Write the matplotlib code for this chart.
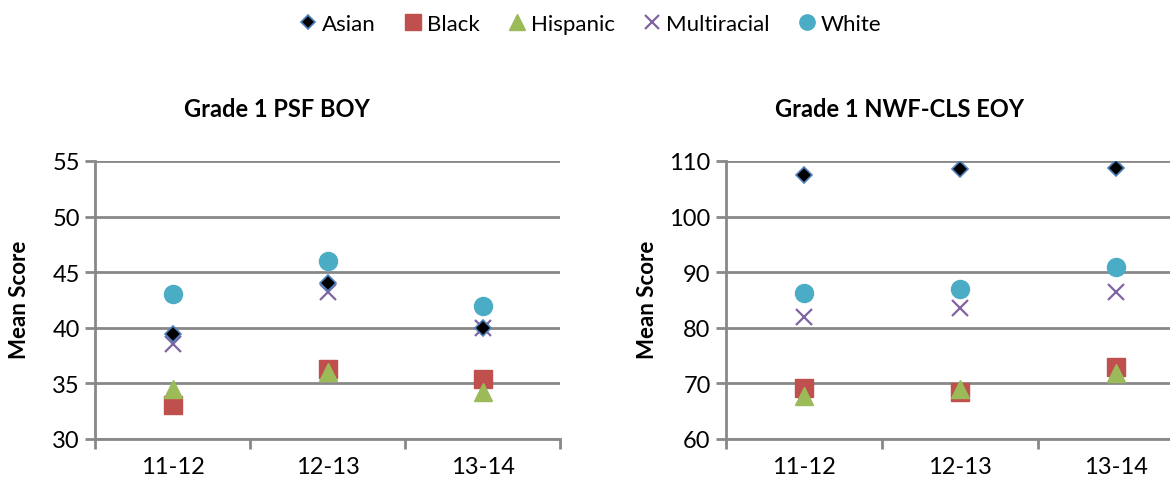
import matplotlib.pyplot as plt
from matplotlib.lines import Line2D

plt.rcParams['font.family'] = ['Lato', 'DejaVu Sans']

years = ['11-12', '12-13', '13-14']
groups = ['Asian', 'Black', 'Hispanic', 'Multiracial', 'White']

# Grade 1 PSF BOY
psf_asian = [39.4, 44.0, 40.0]
psf_black = [33.1, 36.3, 35.4]
psf_hispanic = [34.5, 36.0, 34.2]
psf_multi = [38.5, 43.2, 40.0]
psf_white = [43.0, 46.0, 42.0]

# Grade 1 NWF-CLS EOY
nwf_asian = [107.5, 108.6, 108.8]
nwf_black = [69.1, 68.5, 73.0]
nwf_hispanic = [67.7, 69.0, 71.8]
nwf_multi = [82.0, 83.5, 86.5]
nwf_white = [86.3, 87.0, 91.0]

styles = {
    'Asian': dict(marker='D', color='black', mec='#4F81BD', ms=8, mew=1.2),
    'Black': dict(marker='s', color='#C0504D', mec='#C0504D', ms=13),
    'Hispanic': dict(marker='^', color='#9BBB59', mec='#9BBB59', ms=13),
    'Multiracial': dict(marker='x', color='#8064A2', mec='#8064A2', ms=12, mew=1.6),
    'White': dict(marker='o', color='#4BACC6', mec='#4BACC6', ms=13),
}
draw_order = ['White', 'Multiracial', 'Black', 'Hispanic', 'Asian']

fig = plt.figure(figsize=(11.7, 4.89), dpi=100)

def panel(rect, data, ylim, step, title, title_x, ylabel_x):
    ax = fig.add_axes(rect)
    x = list(range(len(years)))
    for g in draw_order:
        ax.plot(x, data[g], linestyle='none', **styles[g])
    ax.set_xlim(-0.5, 2.5)
    ax.set_ylim(*ylim)
    ax.set_yticks(range(ylim[0], ylim[1] + 1, step))
    ax.set_xticks(x)
    ax.set_xticklabels(years)
    ax.set_xticks([-0.5, 0.5, 1.5, 2.5], minor=True)
    ax.tick_params(axis='x', which='major', length=0, labelsize=17, pad=12)
    ax.tick_params(axis='x', which='minor', length=7, width=2, color='#888888', direction='out')
    ax.tick_params(axis='y', length=7, width=2, color='#888888', labelsize=17, pad=4)
    ax.grid(axis='y', color='#888888', linewidth=2)
    ax.set_axisbelow(True)
    for s in ['top', 'right']:
        ax.spines[s].set_visible(False)
    ax.spines['left'].set_color('#888888')
    ax.spines['left'].set_linewidth(2)
    ax.spines['bottom'].set_color('#888888')
    ax.spines['bottom'].set_linewidth(2)
    ax.spines['bottom'].set_zorder(0)
    fig.text(title_x, 1 - 110 / 489, title, ha='center', va='center',
             fontsize=17, fontweight='bold')
    fig.text(ylabel_x, 1 - 300 / 489, 'Mean Score', ha='center', va='center',
             rotation=90, fontsize=16, fontweight='bold')
    return ax

psf = dict(zip(groups, [psf_asian, psf_black, psf_hispanic, psf_multi, psf_white]))
nwf = dict(zip(groups, [nwf_asian, nwf_black, nwf_hispanic, nwf_multi, nwf_white]))

panel([95 / 1170, 49 / 489, 465 / 1170, 278 / 489], psf, (30, 55), 5,
      'Grade 1 PSF BOY', 277 / 1170, 20 / 1170)
panel([726 / 1170, 49 / 489, 468 / 1170, 278 / 489], nwf, (60, 110), 10,
      'Grade 1 NWF-CLS EOY', 900 / 1170, 647 / 1170)

handles = []
for g in groups:
    st = dict(styles[g])
    st['ms'] = {'Asian': 7, 'Multiracial': 10}.get(g, 11)
    handles.append(Line2D([], [], linestyle='none', **st))
fig.legend(handles, groups, loc='center', bbox_to_anchor=(588 / 1170, 1 - 25 / 489),
           ncol=5, frameon=False, fontsize=16, handletextpad=0.0,
           columnspacing=1.1, handlelength=1.2)

fig.savefig('out.png', dpi=100)
